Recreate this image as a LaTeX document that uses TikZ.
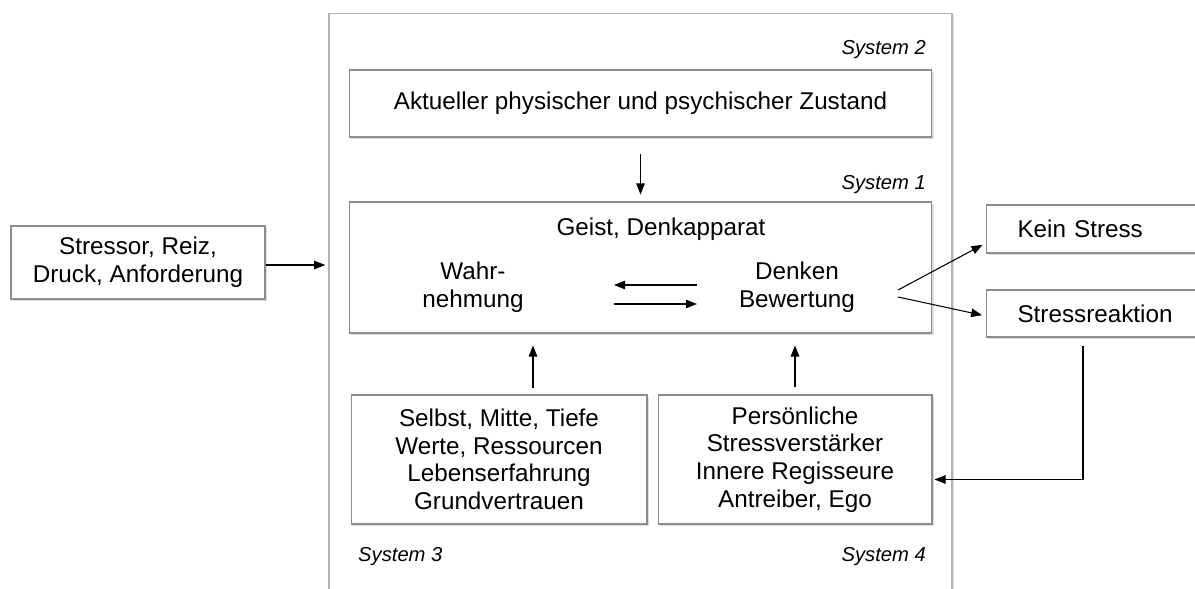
\documentclass[tikz,border=0pt]{standalone}
\usepackage{fontspec}
\setmainfont{Liberation Sans}
\usetikzlibrary{
  positioning,
  arrows.meta,
  calc,
  shadows
}
\usepackage{xcolor}
\definecolor{rim}{HTML}{8C8C8C}
\definecolor{outer}{HTML}{B4B4B4}
\definecolor{shade}{HTML}{DCDCDC}

\begin{document}
\begin{tikzpicture}[
  x=0.02cm, y=-0.02cm,
  box/.style={draw=rim, fill=white, line width=0.6pt, align=center,
              font=\fontsize{13.8}{15.7}\selectfont,
              drop shadow={shadow xshift=1.2pt, shadow yshift=-1.2pt, fill=shade, opacity=1}},
  plain/.style={align=center, font=\fontsize{13.8}{15.7}\selectfont},
  syslabel/.style={font=\fontsize{11.5}{14}\selectfont\itshape},
  arr/.style={-{Triangle[length=0.22cm, width=0.17cm]}, line width=0.6pt}
]
  \useasboundingbox (0,0) rectangle (1195,588);

  % System frame
  \node[draw=outer, line width=1pt, minimum width=12.46cm, minimum height=11.9cm,
        drop shadow={shadow xshift=1.2pt, shadow yshift=-1.2pt, fill=shade, opacity=1},
        fill=white] (frame) at (640.5,311) {};

  % Input
  \node[box, minimum width=5.08cm, minimum height=1.46cm] (stressor) at (138,262.5)
    {Stressor, Reiz,\\Druck, Anforderung};
  \draw[arr] ([yshift=-0.05cm]stressor.east) -- ([xshift=-0.06cm,yshift=-0.05cm]frame.west |- stressor.east);

  % System 2
  \node[syslabel, anchor=east] (s2) at (932,50) {System 2};
  \node[box, minimum width=11.66cm, minimum height=1.34cm] (zustand) at (640.5,103.5)
    {Aktueller physischer und psychischer Zustand};

  % System 1
  \node[syslabel, anchor=east] (s1) at (932,185) {System 1};
  \node[box, minimum width=11.66cm, minimum height=2.62cm] (geist) at (640.5,267.5) {};
  \node[plain] (denkapp) at (661,229) {Geist, Denkapparat};
  \node[plain] (wahr) at (473,287) {Wahr-\\nehmung};
  \node[plain] (denken) at (797,287) {Denken\\Bewertung};
  \draw[arr, shorten <=0.32cm, shorten >=0.14cm] (zustand.south) -- (zustand.south |- geist.north);

  % Wahrnehmung <-> Bewertung
  \coordinate (w1) at (614,285);
  \coordinate (d1) at (697,285);
  \coordinate (w2) at (614,304);
  \coordinate (d2) at (697,304);
  \draw[arr] (d1) -- (w1);
  \draw[arr] (w2) -- (d2);

  % Outputs
  \node[box, text width=3.3cm, align=left, inner xsep=0.62cm, minimum height=0.96cm,
        anchor=west] (kein) at (986,229) {Kein Stress};
  \node[box, text width=3.3cm, align=left, inner xsep=0.62cm, minimum height=0.94cm,
        anchor=west] (reakt) at (986,313.5) {Stressreaktion};
  \coordinate (o1) at (898,290);
  \coordinate (o2) at (898,297);
  \draw[arr, shorten >=0.08cm] (o1) -- ([yshift=-0.28cm]kein.west);
  \draw[arr, shorten >=0.08cm] (o2) -- ([yshift=-0.05cm]reakt.west);

  % System 3 and 4
  \node[box, minimum width=5.92cm, minimum height=2.58cm] (selbst) at (499,459.5)
    {Selbst, Mitte, Tiefe\\Werte, Ressourcen\\Lebenserfahrung\\Grundvertrauen};
  \node[box, minimum width=5.48cm, minimum height=2.58cm] (antreiber) at (795,459.5)
    {Persönliche\\Stressverstärker\\Innere Regisseure\\Antreiber, Ego};
  \node[syslabel, anchor=west] (s3) at (352,557) {System 3};
  \node[syslabel, anchor=east] (s4) at (932,557) {System 4};

  \coordinate (u3) at (533,388);
  \draw[arr, shorten >=0.24cm] (u3) -- (u3 |- geist.south);
  \draw[arr, shorten <=0.14cm, shorten >=0.24cm] (antreiber.north) -- (antreiber.north |- geist.south);

  % Feedback
  \coordinate (fb) at (1083,346);
  \draw[arr, shorten >=0.04cm] (fb) |- ([yshift=-0.4cm]antreiber.east);
\end{tikzpicture}
\end{document}
